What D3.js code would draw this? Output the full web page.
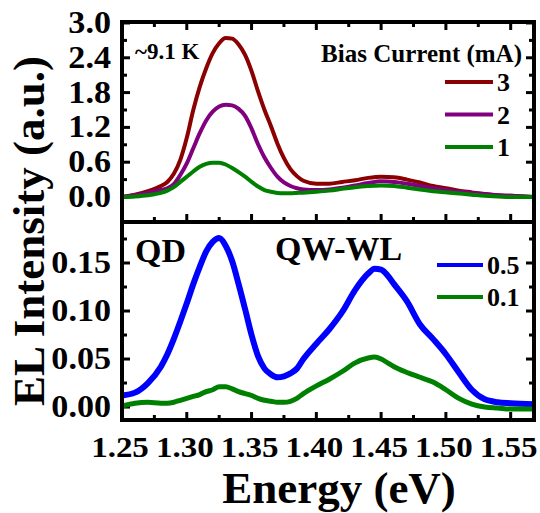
<!DOCTYPE html>
<html>
<head>
<script src="https://d3js.org/d3.v7.min.js"></script>
<style>
  body { margin: 0; background: #fff; }
  text { font-family: "Liberation Serif", "Times New Roman", serif; font-weight: bold; fill: #000; }
</style>
</head>
<body>
<div id="chart"></div>
<script>
// energy grid (eV) for the upper panel
var energyTop = [1.25, 1.26, 1.27, 1.28, 1.285, 1.29, 1.295, 1.30, 1.305, 1.31, 1.315, 1.32, 1.325, 1.33, 1.335,
  1.34, 1.345, 1.35, 1.355, 1.36, 1.365, 1.37, 1.375, 1.38, 1.385, 1.39, 1.40, 1.41, 1.42, 1.43, 1.44, 1.45,
  1.46, 1.47, 1.48, 1.49, 1.50, 1.51, 1.52, 1.53, 1.54, 1.55, 1.568];
var bias3 = [0.0, 0.04, 0.10, 0.19, 0.26, 0.40, 0.64, 1.02, 1.50, 1.90, 2.22, 2.48, 2.65, 2.74, 2.73,
  2.63, 2.45, 2.17, 1.82, 1.50, 1.22, 0.92, 0.67, 0.48, 0.36, 0.28, 0.23, 0.23, 0.26, 0.29, 0.33, 0.35,
  0.34, 0.30, 0.25, 0.19, 0.15, 0.11, 0.08, 0.05, 0.03, 0.02, 0.0];
var bias2 = [0.0, 0.03, 0.07, 0.12, 0.15, 0.22, 0.38, 0.58, 0.84, 1.10, 1.32, 1.47, 1.56, 1.59, 1.58,
  1.52, 1.40, 1.18, 0.91, 0.68, 0.50, 0.35, 0.25, 0.19, 0.15, 0.13, 0.12, 0.13, 0.16, 0.20, 0.24, 0.27,
  0.26, 0.23, 0.19, 0.15, 0.12, 0.09, 0.07, 0.05, 0.03, 0.02, 0.0];
var bias1 = [0.0, 0.01, 0.03, 0.07, 0.11, 0.17, 0.26, 0.35, 0.44, 0.52, 0.57, 0.59, 0.59, 0.56, 0.50,
  0.43, 0.35, 0.26, 0.18, 0.12, 0.09, 0.07, 0.065, 0.065, 0.07, 0.075, 0.09, 0.11, 0.14, 0.17, 0.19, 0.20,
  0.19, 0.16, 0.13, 0.10, 0.08, 0.06, 0.04, 0.02, 0.01, 0.0, 0.0];

// energy grid (eV) for the lower panel
var energyBottom = [1.25, 1.26, 1.27, 1.28, 1.285, 1.29, 1.295, 1.30, 1.305, 1.31, 1.315, 1.32,
  1.325, 1.33, 1.335, 1.34, 1.345, 1.35, 1.355, 1.36, 1.365, 1.37, 1.375, 1.38, 1.385, 1.39, 1.40, 1.41,
  1.42, 1.43, 1.44, 1.445, 1.45, 1.455, 1.46, 1.47, 1.48, 1.49, 1.50, 1.51, 1.52, 1.53, 1.54, 1.55, 1.568];
var bias05 = [0.012, 0.015, 0.025, 0.042, 0.055, 0.071, 0.089, 0.108, 0.128, 0.146, 0.162, 0.172,
  0.176, 0.168, 0.152, 0.128, 0.102, 0.075, 0.053, 0.040, 0.034, 0.031, 0.032, 0.035, 0.040, 0.050, 0.066, 0.081,
  0.099, 0.122, 0.139, 0.144, 0.143, 0.137, 0.128, 0.110, 0.086, 0.071, 0.055, 0.036, 0.018, 0.008, 0.005, 0.004, 0.003];
var bias01 = [0.001, 0.004, 0.005, 0.004, 0.004, 0.005, 0.007, 0.009, 0.011, 0.013, 0.016, 0.018,
  0.021, 0.021, 0.019, 0.016, 0.014, 0.012, 0.009, 0.007, 0.006, 0.005, 0.005, 0.006, 0.009, 0.014, 0.022, 0.029,
  0.037, 0.046, 0.051, 0.052, 0.050, 0.046, 0.042, 0.036, 0.031, 0.026, 0.018, 0.009, 0.003, 0.000, -0.001, -0.002, -0.002];

var xTicks = [1.25, 1.30, 1.35, 1.40, 1.45, 1.50, 1.55];
var yTopTicks = [0.0, 0.6, 1.2, 1.8, 2.4, 3.0];
var yBottomTicks = [0.00, 0.05, 0.10, 0.15];

var topSeries = [
  {label: "3", values: bias3, color: "#8b0000"},
  {label: "2", values: bias2, color: "#800080"},
  {label: "1", values: bias1, color: "#008000"}
];
var bottomSeries = [
  {label: "0.5", values: bias05, color: "#0000ff"},
  {label: "0.1", values: bias01, color: "#008000"}
];

var width = 540, height = 513;
var left = 122, right = 534;
var topY0 = 22, topY1 = 222, botY1 = 420;
var stretch = 1.1; // the figure's lettering is drawn a bit wide

var svg = d3.select("#chart").append("svg")
  .attr("width", width)
  .attr("height", height);

var x = d3.scaleLinear().domain([1.25, 1.568]).range([left, right]);
var yTop = d3.scaleLinear().domain([-0.431, 3.017]).range([topY1, topY0]);
var yBot = d3.scaleLinear().domain([-0.0135, 0.1927]).range([botY1, topY1]);

svg.append("clipPath").attr("id", "clipTop")
  .append("rect").attr("x", left).attr("y", topY0).attr("width", right - left).attr("height", topY1 - topY0);
svg.append("clipPath").attr("id", "clipBot")
  .append("rect").attr("x", left).attr("y", topY1).attr("width", right - left).attr("height", botY1 - topY1);

// minor tick values
var xMinor = [1.275, 1.325, 1.375, 1.425, 1.475, 1.525];
var yTopMinor = [0.3, 0.9, 1.5, 2.1, 2.7];
var yBotMinor = [0.025, 0.075, 0.125, 0.175];

function drawTicks(y, y0, y1, major, minor, withTop) {
  var g = svg.append("g").attr("stroke", "#000").attr("stroke-width", 3);
  function xt(vals, len) {
    vals.forEach(function(v) {
      g.append("line").attr("x1", x(v)).attr("x2", x(v)).attr("y1", y1).attr("y2", y1 - len);
      if (withTop) g.append("line").attr("x1", x(v)).attr("x2", x(v)).attr("y1", y0).attr("y2", y0 + len);
    });
  }
  function yt(vals, len) {
    vals.forEach(function(v) {
      g.append("line").attr("x1", left).attr("x2", left + len).attr("y1", y(v)).attr("y2", y(v));
      g.append("line").attr("x1", right).attr("x2", right - len).attr("y1", y(v)).attr("y2", y(v));
    });
  }
  xt(xTicks, 8); xt(xMinor, 5);
  yt(major, 8); yt(minor, 5);
}
drawTicks(yTop, topY0, topY1, yTopTicks, yTopMinor, true);
drawTicks(yBot, topY1, botY1, yBottomTicks, yBotMinor, false);

// curves
var lineTop = d3.line()
  .x(function(d, i) { return x(energyTop[i]); })
  .y(function(d) { return yTop(d); })
  .curve(d3.curveMonotoneX);
var lineBot = d3.line()
  .x(function(d, i) { return x(energyBottom[i]); })
  .y(function(d) { return yBot(d); })
  .curve(d3.curveMonotoneX);

svg.append("g").attr("clip-path", "url(#clipTop)")
  .selectAll("path").data(topSeries).enter().append("path")
  .attr("d", function(d) { return lineTop(d.values); })
  .attr("fill", "none")
  .attr("stroke", function(d) { return d.color; })
  .attr("stroke-width", 4);

svg.append("g").attr("clip-path", "url(#clipBot)")
  .selectAll("path").data(bottomSeries).enter().append("path")
  .attr("d", function(d) { return lineBot(d.values); })
  .attr("fill", "none")
  .attr("stroke", function(d) { return d.color; })
  .attr("stroke-width", function(d) { return d.label == "0.5" ? 6 : 5; });

// frames
svg.append("rect").attr("x", left).attr("y", topY0).attr("width", right - left).attr("height", topY1 - topY0)
  .attr("fill", "none").attr("stroke", "#000").attr("stroke-width", 4);
svg.append("rect").attr("x", left).attr("y", topY1).attr("width", right - left).attr("height", botY1 - topY1)
  .attr("fill", "none").attr("stroke", "#000").attr("stroke-width", 4);

// tick labels
svg.selectAll(".xl").data(xTicks).enter().append("text")
  .attr("transform", function(d) { return "translate(" + (x(d) - 2) + ",457) scale(" + stretch + ",1)"; })
  .attr("text-anchor", "middle")
  .style("font-size", "30px")
  .text(function(d) { return d.toFixed(2); });

svg.selectAll(".ytl").data(yTopTicks).enter().append("text")
  .attr("transform", function(d) { return "translate(111," + (yTop(d) + 10) + ") scale(" + stretch + ",1)"; })
  .attr("text-anchor", "end")
  .style("font-size", "31px")
  .text(function(d) { return d.toFixed(1); });

svg.selectAll(".ybl").data(yBottomTicks).enter().append("text")
  .attr("transform", function(d) { return "translate(111," + (yBot(d) + 10) + ") scale(" + stretch + ",1)"; })
  .attr("text-anchor", "end")
  .style("font-size", "31px")
  .text(function(d) { return d.toFixed(2); });

// axis titles
svg.append("text")
  .attr("x", 339).attr("y", 503)
  .attr("text-anchor", "middle")
  .style("font-size", "45px")
  .text("Energy (eV)");
svg.append("text")
  .attr("transform", "translate(44,231) rotate(-90)")
  .attr("text-anchor", "middle")
  .style("font-size", "45px")
  .text("EL Intensity (a.u.)");

// annotations
svg.append("text").attr("x", 135).attr("y", 59).style("font-size", "23px").text("~9.1 K");
svg.append("text").attr("x", 135).attr("y", 262).style("font-size", "34px").text("QD");
svg.append("text").attr("x", 275).attr("y", 260).style("font-size", "34px").text("QW-WL");

// legends
svg.append("text").attr("x", 522).attr("y", 62).attr("text-anchor", "end")
  .style("font-size", "25px").text("Bias Current (mA)");

var legTop = svg.append("g").selectAll("g").data(topSeries).enter().append("g")
  .attr("transform", function(d, i) { return "translate(0," + (82 + i * 32.5) + ")"; });
legTop.append("line").attr("x1", 445).attr("x2", 493).attr("y1", 0).attr("y2", 0)
  .attr("stroke", function(d) { return d.color; }).attr("stroke-width", 4);
legTop.append("text").attr("x", 497).attr("y", 9).style("font-size", "26px")
  .text(function(d) { return d.label; });

var legBot = svg.append("g").selectAll("g").data(bottomSeries).enter().append("g")
  .attr("transform", function(d, i) { return "translate(0," + (265 + i * 32) + ")"; });
legBot.append("line").attr("x1", 437).attr("x2", 483).attr("y1", 0).attr("y2", 0)
  .attr("stroke", function(d) { return d.color; }).attr("stroke-width", 4);
legBot.append("text").attr("x", 487).attr("y", 9).style("font-size", "26px")
  .text(function(d) { return d.label; });
</script>
</body>
</html>
